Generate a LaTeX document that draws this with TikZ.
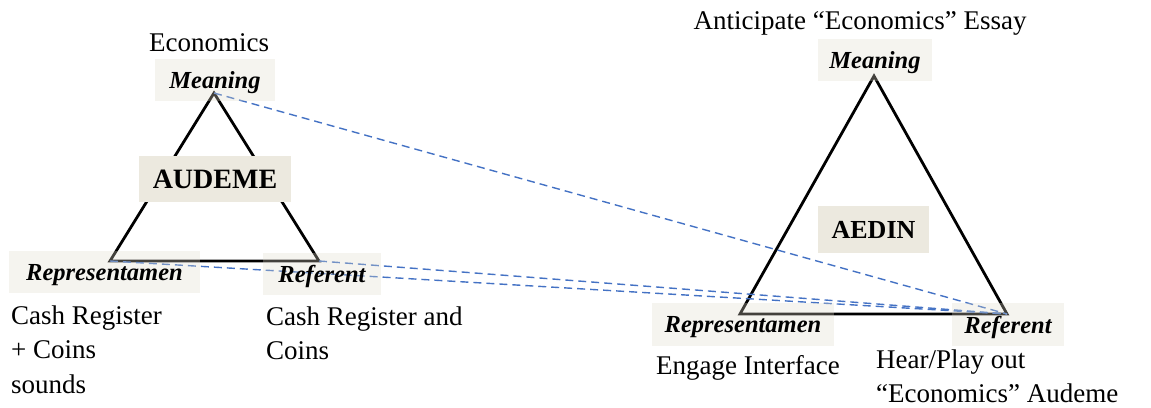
\documentclass[tikz,border=0pt]{standalone}
\usepackage{fontspec}
\setmainfont{Liberation Serif}
\definecolor{linkblue}{RGB}{68,114,196}
\definecolor{boxgray}{RGB}{222,218,202}
\definecolor{namebox}{RGB}{236,233,223}
\tikzset{
  side/.style={line width=2.8pt, black},
  link/.style={linkblue, line width=1.4pt, dash pattern=on 8pt off 5pt},
  rolebox/.style={fill=boxgray, fill opacity=0.3, text opacity=1, inner sep=0pt, text depth=0pt,
    font=\fontsize{24.5}{28}\selectfont\bfseries\itshape},
  signbox/.style={fill=namebox, inner sep=0pt, font=\fontsize{28}{32}\selectfont\bfseries},
  note/.style={inner sep=0pt, align=left, font=\fontsize{27}{34.5}\selectfont},
}

\begin{document}
\begin{tikzpicture}[x=1pt,y=-1pt]
  \useasboundingbox (0,0) rectangle (1151,407);

  % corners of the two triangles
  \coordinate (am) at (214,93);
  \coordinate (arep) at (110,261);
  \coordinate (aref) at (319,261);
  \coordinate (em) at (874,76);
  \coordinate (erep) at (740,314);
  \coordinate (eref) at (1007,314);

  \draw[side] (am) -- (arep) -- (aref) -- cycle;
  \draw[side] (em) -- (erep) -- (eref) -- cycle;

  \draw[link] (am) -- (eref);
  \draw[link] (arep) -- (eref);
  \draw[link] (aref) -- (eref);

  % audeme
  \node[rolebox, minimum width=120pt, minimum height=42pt] (am-box) at (215,80) {Meaning};
  \node[signbox, minimum width=152pt, minimum height=46pt] (audeme) at (215,179) {AUDEME};
  \node[rolebox, minimum width=191pt, minimum height=42pt] (arep-box) at (104.5,272) {Representamen};
  \node[rolebox, minimum width=118pt, minimum height=42pt] (aref-box) at (322,274) {Referent};
  \node[note, anchor=south] (am-txt) at (209,52) {Economics};
  \node[note, anchor=north west] (arep-txt) at (11,305.5) {Cash Register\\+ Coins\\sounds};
  \node[note, anchor=north west] (aref-txt) at (266,306.5) {Cash Register and\\Coins};

  % aedin
  \node[rolebox, minimum width=114pt, minimum height=42pt] (em-box) at (875,60) {Meaning};
  \node[signbox, minimum width=111pt, minimum height=47pt, font=\fontsize{26}{30}\selectfont\bfseries] (aedin) at (873.5,229.5) {AEDIN};
  \node[rolebox, minimum width=182pt, minimum height=43pt] (erep-box) at (743,324.5) {Representamen};
  \node[rolebox, minimum width=112pt, minimum height=43pt] (eref-box) at (1008,324.5) {Referent};
  \node[note, anchor=base] (em-txt) at (860,29) {Anticipate “Economics” Essay};
  \node[note, anchor=base west] (erep-txt) at (656,374) {Engage Interface};
  \node[note, anchor=north west] (eref-txt) at (876,349.5) {Hear/Play out\\“Economics” Audeme};
\end{tikzpicture}
\end{document}
